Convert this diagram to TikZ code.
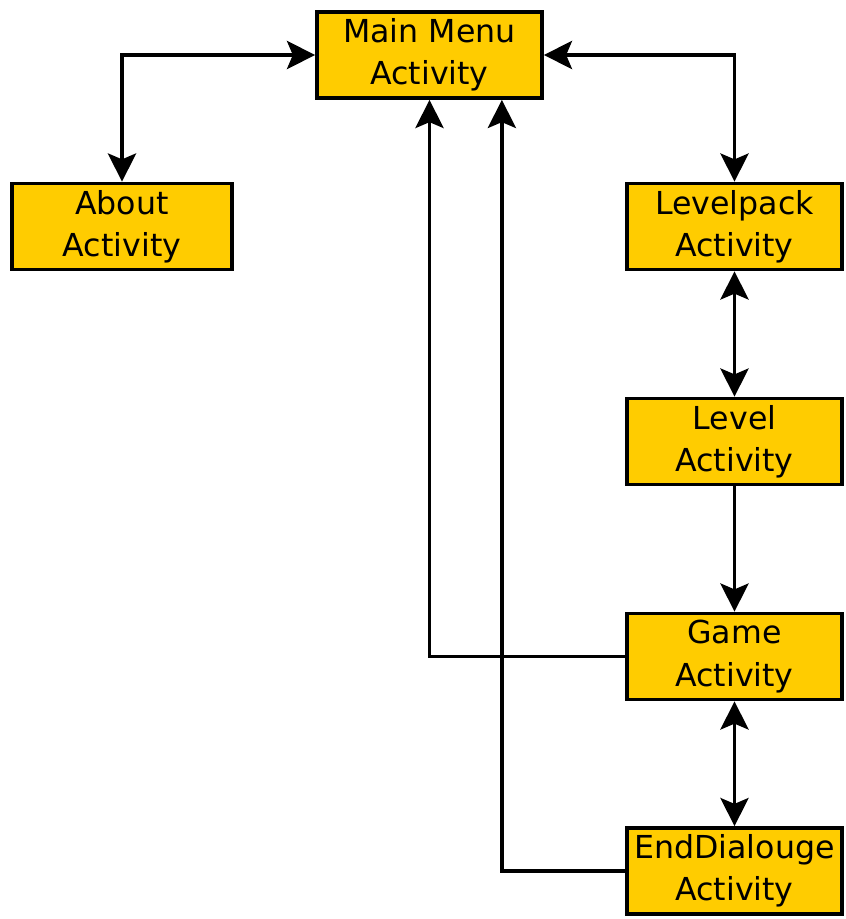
\documentclass[tikz,border=0pt]{standalone}
\usepackage{fontspec}
\setmainfont{DejaVu Sans}
\usetikzlibrary{arrows.meta}
\definecolor{actfill}{HTML}{FFCC00}

\begin{document}
\begin{tikzpicture}[x=0.03cm,y=-0.03cm,
        activity/.style={draw,line width=3.2pt,fill=actfill,minimum width=6.45cm,minimum height=2.58cm,
                align=center,font=\fontsize{27}{36}\selectfont,inner sep=0pt},
        link/.style={line width=3.2pt,-{Stealth[length=24pt,width=24pt,inset=5pt]}},
        dlink/.style={link,{Stealth[length=24pt,width=24pt,inset=5pt]}-{Stealth[length=24pt,width=24pt,inset=5pt]}}]
        \useasboundingbox (0,0) rectangle (846,919);
        \node[activity,minimum width=6.75cm] (main) at (429.5,55) {Main Menu\\Activity};
        \node[activity,minimum width=6.6cm] (about) at (122,226.5) {About\\Activity};
        \node[activity] (levelpack) at (734.5,226.5) {Levelpack\\Activity};
        \node[activity] (level) at (734.5,441.5) {Level\\Activity};
        \node[activity] (game) at (734.5,656.5) {Game\\Activity};
        \node[activity] (enddlg) at (734.5,871) {EndDialouge\\Activity};
        \coordinate (mainin) at ([xshift=-1.26cm]main.south east);
        \draw[dlink] (main.west) -| (about.north);
        \draw[dlink] (main.east) -| (levelpack.north);
        \draw[dlink] (levelpack) -- (level);
        \draw[link] (level) -- (game);
        \draw[dlink] (game) -- (enddlg);
        \draw[link] (game.west) -| (main.south);
        \draw[link] (enddlg.west) -| (mainin);
\end{tikzpicture}
\end{document}
